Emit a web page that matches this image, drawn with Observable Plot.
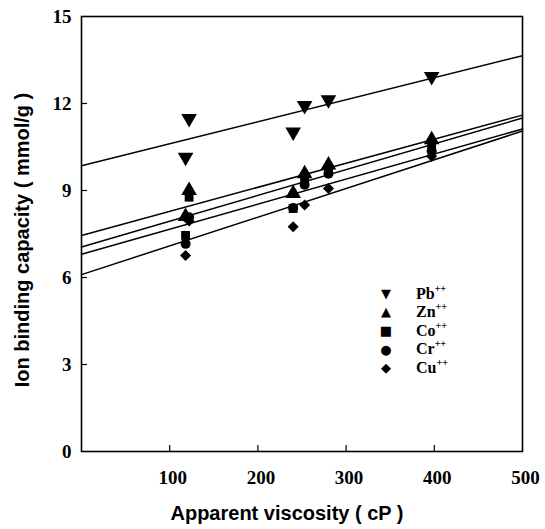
<!DOCTYPE html>
<html><head><meta charset="utf-8">
<script src="https://cdn.jsdelivr.net/npm/d3@7"></script>
<script src="https://cdn.jsdelivr.net/npm/@observablehq/plot@0.6"></script>
<style>
body{margin:0;background:#fff}
#chart{position:relative;width:545px;height:529px}
#legend{position:absolute;left:376px;top:284px;font:bold 16px "Liberation Serif",serif;color:#000}
#legend .row{display:flex;align-items:center;height:18.6px}
#legend .sym{width:20px;text-align:center;font-size:13px;line-height:1;font-family:"DejaVu Sans",sans-serif}
#legend .lab{margin-left:20px}
#legend sup{font-size:10px;position:relative;top:-1px}
</style></head><body><div id="chart"></div><script>
// ---- data ----
const ions = ["Pb", "Zn", "Co", "Cr", "Cu"];
const symbols = ["triangle", "triangle", "square", "circle", "diamond2"];
const rotations = [180, 0, 0, 0, 0];
const legendGlyphs = ["▼", "▲", "■", "●", "◆"];
const viscosity = [118, 122, 240, 253, 280, 397];
const pb = [10.15, 11.48, 11.02, 11.93, 12.13, 12.93];
const zn = [8.1, 9.0, 8.9, 9.58, 9.88, 10.75];
const co = [7.45, 8.77, 8.38, 9.35, 9.72, 10.55];
const cr = [7.16, 8.08, 8.4, 9.2, 9.58, 10.35];
const cu = [6.76, 7.95, 7.75, 8.5, 9.07, 10.18];
// fitted lines: value at x = 0 and at x = 500
const fitAtStart = [9.85, 7.45, 7.05, 6.8, 6.1];
const fitAtEnd = [13.65, 11.6, 11.5, 11.12, 11.05];
const xDomain = [0, 500];
const yDomain = [0, 15];
const xTickLabels = [100, 200, 300, 400, 500];
const xTickMarks = [100, 200, 300, 400];
const yTickLabels = [0, 3, 6, 9, 12, 15];
const yTickMarks = [3, 6, 9, 12];
const xTitle = "Apparent viscosity ( cP )";
const yTitle = "Ion binding capacity ( mmol/g )";

const seriesValues = [pb, zn, co, cr, cu];
const points = seriesValues.flatMap((vals, i) =>
  vals.map((v, j) => ({ion: ions[i], x: viscosity[j], y: v, k: i})));
const fits = ions.flatMap((ion, i) => [
  {ion, x: xDomain[0], y: fitAtStart[i]},
  {ion, x: xDomain[1], y: fitAtEnd[i]}
]);

const tickFont = {fontSize: 19, fontWeight: "bold", fontFamily: "Liberation Serif", fill: "#000"};
const titleFont = {fontSize: 20, fontWeight: "bold", fontFamily: "Liberation Sans", fill: "#000"};

const marks = [
  Plot.axisX(xTickMarks, {tickSize: -6, tickFormat: () => "", label: null, strokeWidth: 1.2}),
  Plot.axisY(yTickMarks, {tickSize: -6, tickFormat: () => "", label: null, strokeWidth: 1.2}),
  Plot.text(xTickLabels, {x: d => d, text: d => String(d), frameAnchor: "bottom", lineAnchor: "top", dy: 19, dx: 3, ...tickFont}),
  Plot.text(yTickLabels, {y: d => d, text: d => String(d), frameAnchor: "left", textAnchor: "end", dx: -10, ...tickFont}),
  Plot.text([xTitle], {text: d => d, frameAnchor: "bottom", textAnchor: "middle", lineAnchor: "middle", dy: 62, dx: -15, ...titleFont}),
  Plot.text([yTitle], {text: d => d, frameAnchor: "left", textAnchor: "middle", lineAnchor: "middle", rotate: -90, dx: -59, dy: 6, ...titleFont}),
  Plot.frame({stroke: "#000", strokeWidth: 1.6}),
  Plot.line(fits, {x: "x", y: "y", z: "ion", stroke: "#000", strokeWidth: 1.5})
];
ions.forEach((ion, i) => {
  marks.push(Plot.dot(points.filter(d => d.k === i), {
    x: "x", y: "y", symbol: () => symbols[i], fill: "#000", stroke: "none",
    r: symbols[i] === "triangle" ? 5.8 : 5,
    rotate: rotations[i]
  }));
});

const chart = Plot.plot({
  width: 545, height: 529,
  marginLeft: 81, marginRight: 23, marginTop: 16, marginBottom: 78,
  style: {background: "#fff", color: "#000"},
  x: {domain: xDomain},
  y: {domain: yDomain},
  symbol: {type: "identity"},
  marks
});
// enforce serif bold tick labels and sans bold titles
const textGroups = chart.querySelectorAll('g[aria-label="text"]');
textGroups.forEach((g, i) => {
  const serif = i < 2;
  g.querySelectorAll("text").forEach(t => {
    t.style.fontFamily = serif ? '"Liberation Serif", "Times New Roman", serif' : '"Liberation Sans", Arial, sans-serif';
    t.style.fontWeight = "bold";
  });
});
const host = document.getElementById("chart");
host.appendChild(chart);

const legend = document.createElement("div");
legend.id = "legend";
ions.forEach((ion, i) => {
  const row = document.createElement("div");
  row.className = "row";
  row.innerHTML = `<span class="sym">${legendGlyphs[i]}</span><span class="lab">${ion}<sup>++</sup></span>`;
  legend.appendChild(row);
});
host.appendChild(legend);
</script></body></html>
